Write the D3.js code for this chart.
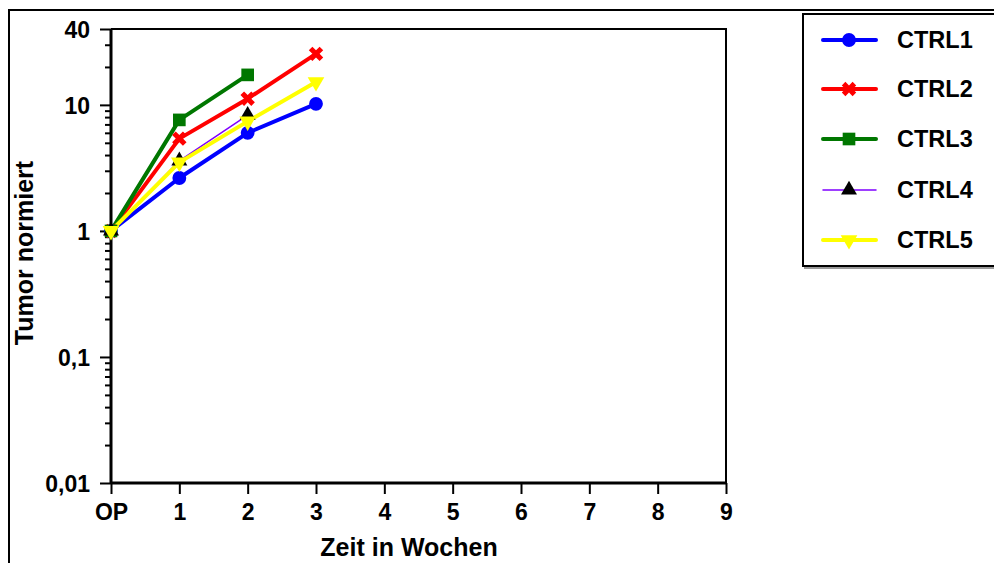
<!DOCTYPE html>
<html><head><meta charset="utf-8">
<script src="https://cdn.jsdelivr.net/npm/d3@7"></script>
<style>
body{margin:0;background:#fff;}
text{font-family:"Liberation Sans",Arial,sans-serif;font-weight:bold;fill:#000;}
</style></head>
<body><svg id="c" width="994" height="563"></svg>
<script>
const weeks = [0, 1, 2, 3];
const xTickLabels = ["OP","1","2","3","4","5","6","7","8","9"];
const yTickValues = [0.01, 0.1, 1, 10, 40];
const yTickLabels = ["0,01","0,1","1","10","40"];
const seriesNames = ["CTRL1","CTRL2","CTRL3","CTRL4","CTRL5"];
const ctrl1 = [1, 2.63, 6.0, 10.2];
const ctrl2 = [1, 5.4, 11.2, 25.4];
const ctrl3 = [1, 7.6, 17.3];
const ctrl4 = [1, 3.6, 8.3];
const ctrl5 = [1, 3.5, 7.4, 15.2];
const seriesValues = [ctrl1, ctrl2, ctrl3, ctrl4, ctrl5];
const colors = ["#0000ff","#ff0000","#007700","#7f00ff","#ffff00"];
const markerColors = ["#0000ff","#ff0000","#007700","#000000","#ffff00"];
const lineWidths = [4, 4, 4, 1.5, 4];
const symbols = [d3.symbolCircle, d3.symbolCross, d3.symbolSquare, d3.symbolTriangle, d3.symbolTriangle];
const sizes = [150, 130, 160, 110, 120];

const svg = d3.select("#c");
const L=111, R=726, T=29, B=483;
const x = d3.scaleLinear().domain([0,9]).range([L,R]);
const y = d3.scaleLog().domain([0.01,40]).range([B,T]);

// outer frame
svg.append("path").attr("d","M9,563 L9,10 L994,10").attr("fill","none").attr("stroke","#000").attr("stroke-width",2);

// frame top/right
svg.append("path").attr("d",`M${L},${T} L${R},${T} L${R},${B}`).attr("fill","none").attr("stroke","#000").attr("stroke-width",2);

// y axis
const minor = [];
for (let e=-2; e<=1; e++) for (let m=1; m<=9; m++) { const v=m*Math.pow(10,e); if (v<=40) minor.push(v); }
const yAxisMinor = d3.axisLeft(y).tickValues(minor.filter(v=>!yTickValues.some(t=>Math.abs(t-v)<1e-9))).tickSize(6).tickFormat("");
const gym = svg.append("g").attr("transform",`translate(${L},0)`).call(yAxisMinor);
gym.select(".domain").remove();
gym.selectAll("line").attr("stroke","#000").attr("stroke-width",2);
const yAxis = d3.axisLeft(y).tickValues(yTickValues).tickSize(11).tickPadding(10).tickFormat((d,i)=>yTickLabels[i]);
const gy = svg.append("g").attr("transform",`translate(${L},0)`).call(yAxis);
gy.select(".domain").attr("stroke","#000").attr("stroke-width",3).attr("d",`M0,${T}V${B}`);
gy.selectAll("line").attr("stroke","#000").attr("stroke-width",2);
gy.selectAll("text").style("font-size","23px").style("font-family","Liberation Sans").style("font-weight","bold").attr("dy","0.36em");

// x axis
const xAxis = d3.axisBottom(x).tickValues(d3.range(0,10)).tickSize(11).tickFormat((d,i)=>xTickLabels[i]);
const gx = svg.append("g").attr("transform",`translate(0,${B})`).call(xAxis);
gx.select(".domain").attr("stroke","#000").attr("stroke-width",3).attr("d",`M${L},0H${R}`);
gx.selectAll("line").attr("stroke","#000").attr("stroke-width",2);
gx.selectAll("text").style("font-size","23px").style("font-family","Liberation Sans").style("font-weight","bold").attr("y",37).attr("dy","0");

// titles
svg.append("text").attr("x",409).attr("y",556).attr("text-anchor","middle").style("font-size","25px").text("Zeit in Wochen");
svg.append("text").attr("transform","translate(33,253) rotate(-90)").attr("text-anchor","middle").style("font-size","25px").text("Tumor normiert");

// series
const line = d3.line().x((d,j)=>x(weeks[j])).y(d=>y(d));
seriesValues.forEach((vals,i)=>{
  svg.append("path").attr("d", line(vals)).attr("fill","none").attr("stroke",colors[i]).attr("stroke-width",lineWidths[i]).attr("stroke-linejoin","round");
});
seriesValues.forEach((vals,i)=>{
  vals.forEach((v,j)=>{
    const g = svg.append("g").attr("transform",`translate(${x(weeks[j])},${y(v)})`);
    const p = g.append("path").attr("d", d3.symbol().type(symbols[i]).size(sizes[i])()).attr("fill",markerColors[i]);
    if (i===1) p.attr("transform","rotate(45)");
    if (i===4) p.attr("transform","rotate(180)");
  });
});

// legend
svg.append("rect").attr("x",805).attr("y",16).attr("width",200).attr("height",252).attr("fill","none").attr("stroke","#999").attr("stroke-width",2);
svg.append("rect").attr("x",803).attr("y",14).attr("width",200).attr("height",252).attr("fill","#fff").attr("stroke","#000").attr("stroke-width",2);
const legY = [40, 89, 139, 190, 240];
seriesNames.forEach((n,i)=>{
  const yy = legY[i];
  svg.append("line").attr("x1",823).attr("x2",876).attr("y1",yy).attr("y2",yy).attr("stroke",colors[i]).attr("stroke-width",lineWidths[i]).attr("stroke-linecap","round");
  const p = svg.append("g").attr("transform",`translate(849,${yy})`).append("path").attr("d", d3.symbol().type(symbols[i]).size(sizes[i])()).attr("fill",markerColors[i]);
  if (i===1) p.attr("transform","rotate(45)");
  if (i===4) p.attr("transform","rotate(180)");
  svg.append("text").attr("x",897).attr("y",yy).attr("dy","0.36em").style("font-size","23.5px").text(n);
});
</script></body></html>
